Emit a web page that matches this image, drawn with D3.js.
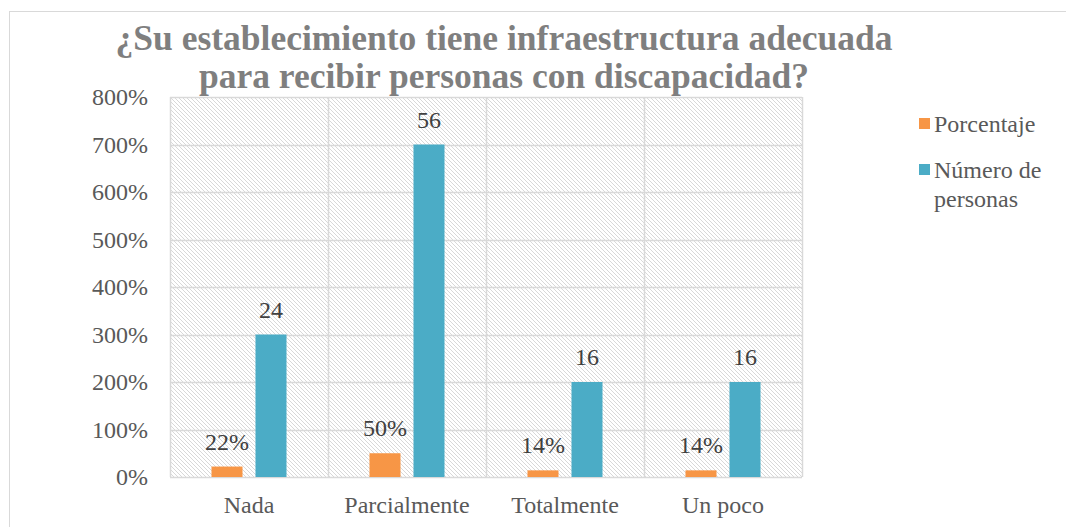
<!DOCTYPE html>
<html>
<head>
<meta charset="utf-8">
<script src="https://cdn.jsdelivr.net/npm/d3@7"></script>
<style>
  body { margin: 0; background: #fff; }
  svg text { font-family: "Liberation Serif", "Times New Roman", serif; }
</style>
</head>
<body>
<svg id="chart" width="1066" height="527"></svg>
<script>
// data
const categories = ["Nada", "Parcialmente", "Totalmente", "Un poco"];
const porcentaje = [0.22, 0.50, 0.14, 0.14];
const porcentajeLabels = ["22%", "50%", "14%", "14%"];
const personasPlotted = [3.0, 7.0, 2.0, 2.0];
const personasLabels = ["24", "56", "16", "16"];
const yTicks = [0, 1, 2, 3, 4, 5, 6, 7, 8];
const seriesNames = ["Porcentaje", "Número de personas"];
const colors = ["#F79646", "#4BACC6"];

const svg = d3.select("#chart");
const margin = {left: 170, right: 264, top: 97, bottom: 50};
const width = 1066 - margin.left - margin.right;
const height = 527 - margin.top - margin.bottom;

// outer chart border
svg.append("rect")
    .attr("x", 9.5).attr("y", 11.5)
    .attr("width", 1070).attr("height", 530)
    .attr("fill", "none").attr("stroke", "#d9d9d9");

const defs = svg.append("defs");
const pat = defs.append("pattern")
    .attr("id", "hatch")
    .attr("patternUnits", "userSpaceOnUse")
    .attr("width", 4).attr("height", 4);
pat.append("path")
    .attr("d", "M-1,-1 L5,5 M-1,3 L1,5 M3,-1 L5,1")
    .attr("stroke", "#d4d4d4").attr("stroke-width", 0.9);

const g = svg.append("g").attr("transform", `translate(${margin.left},${margin.top})`);

const x = d3.scaleBand().domain(categories).range([0, width]);
const y = d3.scaleLinear().domain([0, 8]).range([height, 0]);

g.append("rect")
    .attr("width", width).attr("height", height)
    .attr("fill", "url(#hatch)");

// horizontal gridlines
g.selectAll("line.hgrid").data(yTicks).join("line")
    .attr("class", "hgrid")
    .attr("x1", 0).attr("x2", width)
    .attr("y1", d => Math.round(y(d)) + 0.5).attr("y2", d => Math.round(y(d)) + 0.5)
    .attr("stroke", "#d9d9d9").attr("stroke-width", 1.5);

// vertical gridlines at category boundaries
const bounds = categories.map(c => x(c)).concat([width]);
g.selectAll("line.vgrid").data(bounds).join("line")
    .attr("class", "vgrid")
    .attr("x1", d => Math.round(d) + 0.5).attr("x2", d => Math.round(d) + 0.5)
    .attr("y1", 0).attr("y2", height)
    .attr("stroke", "#d9d9d9").attr("stroke-width", 1.5);

// y axis labels
const yAxis = d3.axisLeft(y).tickValues(yTicks).tickSize(0).tickPadding(22)
    .tickFormat(d => d3.format(".0%")(d));
const ya = g.append("g").call(yAxis);
ya.select(".domain").remove();
ya.selectAll("text").attr("font-size", 24).attr("fill", "#595959").attr("dy", "0.33em");

// x axis labels
const xAxis = d3.axisBottom(x).tickSize(0).tickPadding(19);
const xa = g.append("g").attr("transform", `translate(0,${height})`).call(xAxis);
xa.select(".domain").remove();
xa.selectAll("text").attr("font-size", 24).attr("fill", "#595959");

// bars
const inner = d3.scaleBand().domain([0, 1]).range([0, x.bandwidth()]).paddingInner(0.295).paddingOuter(0.943);
const seriesVals = [porcentaje, personasPlotted];
const seriesLabels = [porcentajeLabels, personasLabels];

seriesVals.forEach((vals, s) => {
  g.selectAll(`rect.bar${s}`).data(vals).join("rect")
      .attr("class", `bar${s}`)
      .attr("x", (d, i) => x(categories[i]) + inner(s))
      .attr("y", d => y(d))
      .attr("width", inner.bandwidth())
      .attr("height", d => y(0) - y(d))
      .attr("fill", colors[s]);
  g.selectAll(`text.lab${s}`).data(vals).join("text")
      .attr("class", `lab${s}`)
      .attr("x", (d, i) => x(categories[i]) + inner(s) + inner.bandwidth() / 2)
      .attr("y", d => y(d) - 17)
      .attr("text-anchor", "middle")
      .attr("font-size", 24).attr("fill", "#404040")
      .text((d, i) => seriesLabels[s][i]);
});

// title, two lines
const titleLines = ["¿Su establecimiento tiene infraestructura adecuada", "para recibir personas con discapacidad?"];
svg.selectAll("text.title").data(titleLines).join("text")
    .attr("class", "title")
    .attr("x", 504).attr("y", (d, i) => 50 + i * 38)
    .attr("text-anchor", "middle")
    .attr("font-size", 35.5).attr("font-weight", "bold").attr("fill", "#7f7f7f")
    .text(d => d);

// legend
const legend = svg.append("g").attr("transform", "translate(919,0)");
const legendRows = [{lines: ["Porcentaje"], y: 124}, {lines: ["Número de", "personas"], y: 170}];
legendRows.forEach((r, i) => {
  legend.append("rect").attr("x", 0).attr("y", r.y - 6).attr("width", 11).attr("height", 11)
      .attr("fill", colors[i]);
  const t = legend.append("text").attr("font-size", 24).attr("fill", "#595959");
  r.lines.forEach((ln, j) => {
    t.append("tspan").attr("x", 15).attr("y", r.y + 8 + j * 29).text(ln);
  });
});
</script>
</body>
</html>
